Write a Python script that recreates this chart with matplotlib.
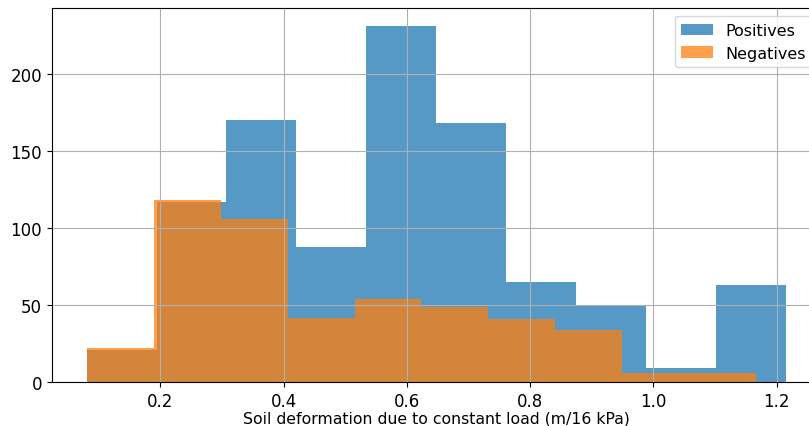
import numpy as np
import matplotlib
matplotlib.use("Agg")
import matplotlib.pyplot as plt

# Histogram counts per bin (10 equal-width bins each)
pos_counts = [21, 117, 170, 88, 231, 168, 65, 50, 9, 63]
neg_counts = [22, 118, 106, 42, 54, 49, 41, 34, 6, 6]

# Data range covered by each histogram
pos_range = (0.0804, 1.2145)
neg_range = (0.0811, 1.1659)

series_labels = ["Positives", "Negatives"]
x_label = "Soil deformation due to constant load (m/16 kPa)"

pos_edges = np.linspace(pos_range[0], pos_range[1], len(pos_counts) + 1)
neg_edges = np.linspace(neg_range[0], neg_range[1], len(neg_counts) + 1)

fig = plt.figure(figsize=(8.09, 4.27), dpi=100)
ax = fig.add_axes([0.0639, 0.1023, 1.0143 - 0.0639, 0.9782 - 0.1023])

ax.hist(pos_edges[:-1], bins=pos_edges, weights=pos_counts, alpha=0.75,
        color="tab:blue", label=series_labels[0])
ax.hist(neg_edges[:-1], bins=neg_edges, weights=neg_counts, alpha=0.75,
        color="tab:orange", label=series_labels[1])

ax.grid(True)
ax.tick_params(labelsize=12)
ax.set_xlabel(x_label, fontsize=11.3, labelpad=0.3)
ax.legend(loc="upper right", fontsize=11.5)

fig.savefig("out.png", dpi=100)
